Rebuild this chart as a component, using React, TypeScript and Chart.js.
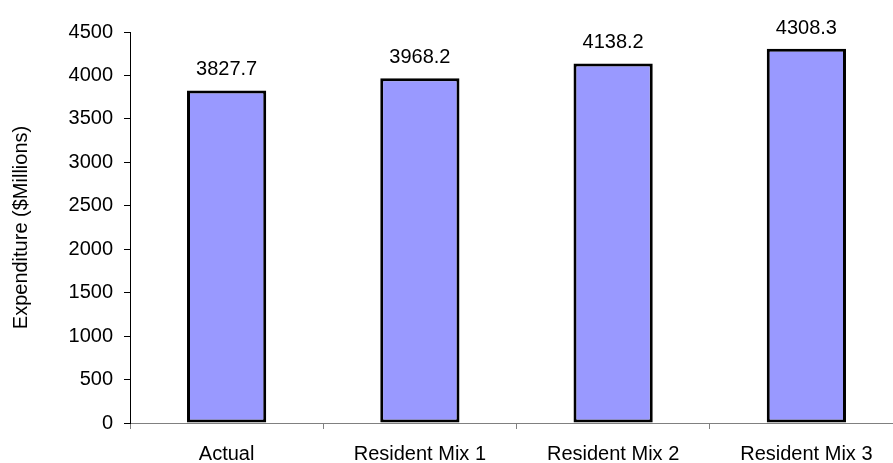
import React, { useEffect, useRef } from "react";
import { Chart, registerables } from "chart.js";

Chart.register(...registerables);

const categories = ["Actual", "Resident Mix 1", "Resident Mix 2", "Resident Mix 3"];
const expenditure = [3827.7, 3968.2, 4138.2, 4308.3];
const yTicks = [0, 500, 1000, 1500, 2000, 2500, 3000, 3500, 4000, 4500];
const yTitle = "Expenditure ($Millions)";

const FONT = "'Liberation Sans', Arial, sans-serif";
const FS = 20;

const labelPlugin = {
  id: "barLabels",
  afterDatasetsDraw(chart: any) {
    const ctx = chart.ctx;
    const meta = chart.getDatasetMeta(0);
    ctx.save();
    ctx.font = `${FS}px ${FONT}`;
    ctx.fillStyle = "#000";
    ctx.textAlign = "center";
    ctx.textBaseline = "alphabetic";
    meta.data.forEach((bar: any, i: number) => {
      ctx.fillText(expenditure[i].toFixed(1), bar.x, bar.y - 15);
    });
    ctx.restore();
  },
};

export default function App() {
  const ref = useRef<HTMLCanvasElement>(null);
  useEffect(() => {
    if (!ref.current) return;
    const chart = new Chart(ref.current, {
      type: "bar",
      data: {
        labels: categories,
        datasets: [
          {
            data: expenditure,
            backgroundColor: "#9999FF",
            borderColor: "#000000",
            borderWidth: 3,
            borderSkipped: false,
            categoryPercentage: 1,
            barPercentage: 0.41,
          },
        ],
      },
      options: {
        responsive: false,
        animation: false,
        layout: { padding: { top: 32, right: 2, left: 0, bottom: 0 } },
        plugins: { legend: { display: false }, tooltip: { enabled: false } },
        scales: {
          x: {
            offset: true,
            grid: {
              offset: true,
              drawOnChartArea: false,
              drawTicks: true,
              tickLength: 6,
              color: "#808080",
            },
            border: { color: "#808080", width: 1 },
            ticks: { color: "#000", font: { family: FONT, size: FS }, padding: 13, maxRotation: 0 },
            afterFit: (s: any) => {
              s.height = 40;
            },
          },
          y: {
            min: 0,
            max: 4500,
            afterBuildTicks: (s: any) => {
              s.ticks = yTicks.map((v) => ({ value: v }));
            },
            grid: { drawOnChartArea: false, drawTicks: true, tickLength: 6, color: "#000" },
            border: { color: "#000", width: 1 },
            ticks: {
              color: "#000",
              font: { family: FONT, size: FS },
              padding: 11,
              callback: (v: any) => String(v),
            },
            title: {
              display: true,
              text: yTitle,
              color: "#000",
              font: { family: FONT, size: FS },
              padding: { top: 9, bottom: 0 },
            },
            afterFit: (s: any) => {
              s.width = 130;
            },
          },
        },
      },
      plugins: [labelPlugin],
    });
    return () => chart.destroy();
  }, []);
  return (
    <div
      style={{
        position: "fixed",
        left: 0,
        top: 0,
        width: 893,
        height: 463,
        overflow: "hidden",
        background: "#fff",
      }}
    >
      <canvas ref={ref} width={905} height={463} style={{ display: "block" }} />
    </div>
  );
}
